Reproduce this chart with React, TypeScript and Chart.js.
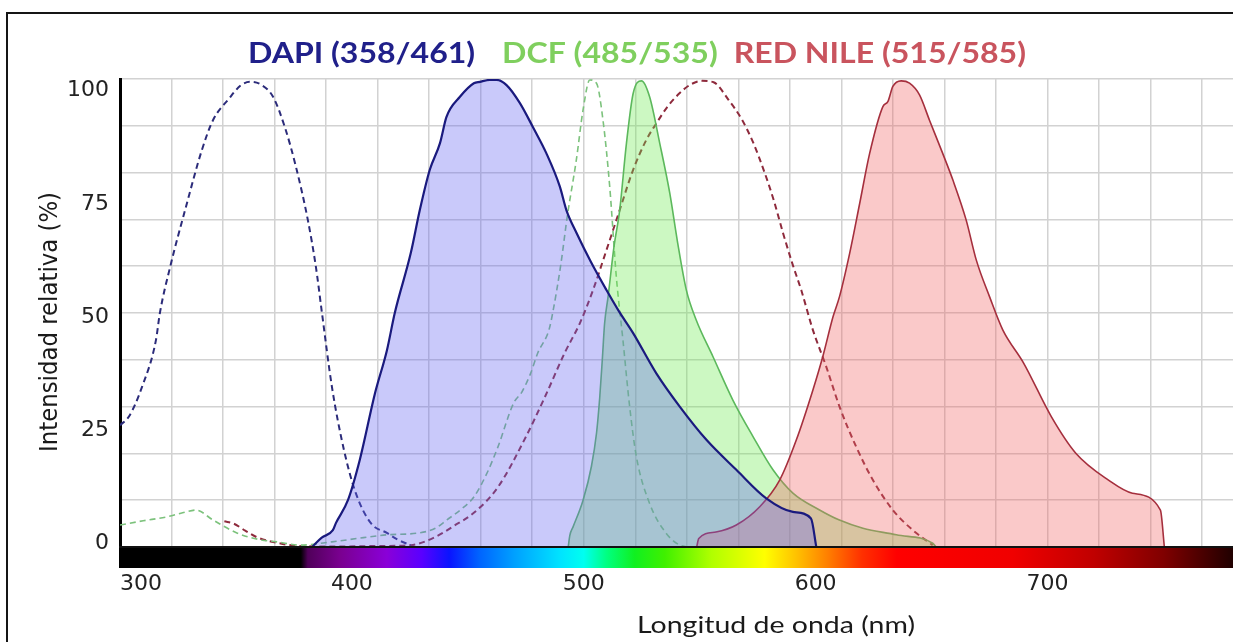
import React, { useEffect, useRef } from "react";
import { Chart, registerables } from "chart.js";

Chart.register(...registerables);

// ---------- DATA (wavelength nm, relative intensity %) ----------
const dapiExcitation: [number, number][] = [
  [300, 26], [304, 28], [309.5, 34.2], [315.5, 44.2], [317.2, 50], [321.6, 59.8], [328.4, 72.6],
  [335.3, 84.8], [340.1, 91.2], [347, 95.8], [352, 98.6], [356, 99.4], [360.8, 98.8], [366, 96.2],
  [371.1, 89.7], [375.9, 81.2], [381, 69.9], [384.5, 59.8], [387.1, 50], [391.4, 34.2], [396.6, 20.7],
  [401.7, 11.5], [408.2, 5.1], [415.1, 3], [420, 1.5], [425.4, 0.4],
];

const dapiEmission: [number, number][] = [
  [382.8, 0], [387, 2], [391.8, 3.6], [393.1, 5.1], [398.3, 10], [403.4, 18.6], [410, 32.9], [415.1, 42],
  [418.5, 50], [425.4, 62.8], [429.3, 72], [433.6, 80.6], [438, 86.3], [440.8, 91.9], [446.6, 96.2],
  [452.6, 99.1], [455.2, 99.4], [459.5, 99.8], [462.4, 99.8], [466.7, 98.7], [472.4, 94.9], [478, 89.8],
  [483.9, 84.1], [489.7, 77], [492.5, 72], [497, 67], [503, 61], [509.8, 54.9], [515, 50.5], [521.3, 45.7],
  [531.3, 37.1], [541.4, 30], [552.9, 22.9], [565.8, 16.5], [578.7, 10.4], [590.2, 7.5], [598, 6.1], [600.3, 0],
];

const dcfExcitation: [number, number][] = [
  [300, 4.7], [310, 5.6], [319.8, 6.4], [327, 7.3], [332.8, 7.9], [340, 5.8], [350.4, 3], [360, 1.6],
  [367.7, 1.1], [377.6, 0.4], [391.4, 1.1], [405, 2], [415, 2.6], [428.9, 3], [436, 4], [441, 5.8], [447, 8],
  [452.6, 10.7], [458, 15.5], [463, 21.4], [469.8, 30.8], [473.3, 33.1], [477, 37], [480.2, 41.5], [485, 46.4],
  [486.6, 50], [490, 60], [493, 71], [496.8, 82.7], [499.7, 93.4], [502.6, 99.8], [505.5, 99.1], [508.3, 91.2],
  [511.2, 77], [514, 58], [516.9, 44.2], [519.8, 30], [522.7, 19.3], [528.4, 9.3], [535.6, 2.9], [541.4, 0.4], [545, 0],
];

const dcfEmission: [number, number][] = [
  [493.3, 0], [494, 2.5], [495.4, 4.3], [499.7, 10], [503.3, 17.2], [505.5, 24.3], [506.9, 32], [508, 40],
  [509, 47.8], [510.5, 53.5], [513, 64], [515.5, 72], [518.4, 86.2], [521.3, 96.9], [524.9, 99.6], [528.4, 96.2],
  [532.8, 86.2], [537.1, 75.6], [540.5, 65], [544.2, 55], [548.5, 48.5], [555.7, 40.7], [564.3, 31.4], [573, 23.6],
  [581.6, 16.5], [590.2, 11.5], [601.7, 7.9], [610, 5.8], [620.4, 4], [634.8, 2.6], [650.5, 0.8], [652, 0],
];

const nileExcitation: [number, number][] = [
  [345, 5.5], [349, 5], [354, 3.5], [359, 2.1], [367.7, 0.9], [375, 0.3], [390, 0.1], [410, 0.2], [425.4, 0.4],
  [435.8, 2.1], [444, 4.5], [452.6, 7.3], [463, 12.8], [475, 23.5], [483.2, 32], [491.8, 41.5], [498.3, 47.8],
  [504, 54.9], [509.5, 63], [515.5, 72], [521.3, 80.6], [527, 87], [531.3, 90.5], [536, 94], [541.4, 97],
  [546, 98.8], [551, 99.6], [556, 99.3], [562.5, 95.5], [568, 91.5], [573, 86.5], [578, 80], [582, 74],
  [586, 67], [590, 60.5], [593.8, 54.9], [598.8, 46.4], [604.6, 38.5], [610.3, 30], [617.5, 21.4],
  [624.7, 14.3], [633.3, 7.9], [641.9, 3.6], [650.5, 0.4],
];

const nileEmission: [number, number][] = [
  [548.7, 0], [549.6, 1.8], [557, 3.2], [565.8, 4.7], [575.9, 8.6], [584.5, 14.3], [591.7, 22.9], [598.8, 33.5],
  [603.1, 40.7], [607.5, 49.2], [610.3, 53.5], [614.7, 62.8], [619, 73.4], [623.3, 84.1], [629, 94.1],
  [631.2, 95.2], [633.3, 98.4], [636.9, 99.6], [640.5, 99.1], [644.8, 96.6], [649.1, 91.2], [654.8, 84.1],
  [659.2, 78.4], [664.9, 69.9], [669.3, 61.3], [675, 53.5], [680.7, 46.4], [689.7, 39.3], [701.7, 27.8],
  [712.1, 20.1], [726.3, 14.3], [736.6, 11.5], [748.7, 7.9], [750.4, 0],
];

const xTickValues = [300, 400, 500, 600, 700];
const yTickValues = [0, 25, 50, 75, 100];
const yGridValues = [0, 10, 20, 30, 40, 50, 60, 70, 80, 90, 100];
const xMin = 300;
const xMax = 780;
const xGridStep = 400 / 18;

const titleParts = ["DAPI (358/461)", "DCF (485/535)", "RED NILE (515/585)"];
const titleColors = ["#20208a", "#7fcf5e", "#c9545e"];
const xTitle = "Longitud de onda (nm)";
const yTitle = "Intensidad relativa (%)";

const spectrumStops: [number, string][] = [
  [300, "#000000"], [378, "#000000"], [381, "#50005a"], [395, "#7a0090"], [415, "#8a00d8"], [430, "#5a00ff"],
  [442, "#0a14ff"], [455, "#0064ff"], [470, "#00a0ff"], [490, "#00e4ff"], [500, "#00fff0"], [510, "#00ff80"],
  [522, "#10f020"], [535, "#40f000"], [555, "#b0ff00"], [578, "#ffff00"], [592, "#ffc000"], [605, "#ff8000"],
  [620, "#ff3000"], [635, "#ff0000"], [685, "#f00000"], [720, "#c00000"], [750, "#800000"], [770, "#400000"],
  [780, "#200000"],
];

const pts = (a: [number, number][]) => a.map(([x, y]) => ({ x, y }));

const spectrumPlugin = {
  id: "spectrumBar",
  afterDraw(chart: any) {
    const { ctx, chartArea, scales } = chart;
    const xs = scales.x;
    const left = chartArea.left;
    const right = chartArea.right;
    const top = chartArea.bottom;
    const g = ctx.createLinearGradient(left, 0, right, 0);
    spectrumStops.forEach(([nm, c]) => {
      const p = (xs.getPixelForValue(nm) - left) / (right - left);
      g.addColorStop(Math.min(1, Math.max(0, p)), c);
    });
    ctx.save();
    ctx.fillStyle = g;
    ctx.fillRect(left - 1, top, right - left + 1, 21);
    ctx.fillStyle = "#111";
    ctx.fillRect(left - 1, top - 1, right - left + 1, 2);
    ctx.restore();
  },
};

const textPlugin = {
  id: "texts",
  afterDraw(chart: any) {
    const ctx = chart.ctx;
    ctx.save();
    // Title (three coloured parts)
    ctx.font = "bold 28px Lato";
    ctx.textBaseline = "alphabetic";
    ctx.textAlign = "left";
    const widths = titleParts.map((t) => ctx.measureText(t).width);
    const gaps = [27, 16];
    const start = 248;
    const span = 778;
    const sx = (span - gaps[0] - gaps[1]) / widths.reduce((a, b) => a + b, 0);
    let x = start;
    titleParts.forEach((t, i) => {
      ctx.save();
      ctx.translate(x, 63);
      ctx.scale(sx, 1);
      ctx.fillStyle = titleColors[i];
      ctx.fillText(t, 0, 0);
      ctx.restore();
      x += widths[i] * sx + (gaps[i] || 0);
    });

    // X axis title
    ctx.font = "24px Lato";
    const xw = ctx.measureText(xTitle).width;
    ctx.save();
    ctx.translate(637, 633);
    ctx.scale(278 / xw, 1);
    ctx.fillStyle = "#1a1a1a";
    ctx.fillText(xTitle, 0, 0);
    ctx.restore();

    // Y axis title
    ctx.font = '25px "DejaVu Sans"';
    const yw = ctx.measureText(yTitle).width;
    ctx.save();
    ctx.translate(57, 452);
    ctx.rotate(-Math.PI / 2);
    ctx.scale(260 / yw, 1);
    ctx.fillStyle = "#1a1a1a";
    ctx.fillText(yTitle, 0, 0);
    ctx.restore();

    ctx.restore();
  },
};

export default function App() {
  const ref = useRef<HTMLCanvasElement>(null);

  useEffect(() => {
    if (!ref.current) return;
    const gridColor = "#d2d2d2";
    const chart = new Chart(ref.current, {
      type: "line",
      data: {
        datasets: [
          {
            label: "DAPI emisión",
            data: pts(dapiEmission),
            borderColor: "#1a1a7e",
            borderWidth: 2.2,
            backgroundColor: "rgba(100,100,240,0.35)",
            fill: "origin",
          },
          {
            label: "Red Nile emisión",
            data: pts(nileEmission),
            borderColor: "#a52f3d",
            borderWidth: 1.6,
            backgroundColor: "rgba(240,100,100,0.35)",
            fill: "origin",
          },
          {
            label: "DCF emisión",
            data: pts(dcfEmission),
            borderColor: "#5cb85c",
            borderWidth: 1.6,
            backgroundColor: "rgba(110,235,80,0.35)",
            fill: "origin",
          },
          {
            label: "DAPI excitación",
            data: pts(dapiExcitation),
            borderColor: "#2b2b7a",
            borderWidth: 2,
            borderDash: [6, 4],
            fill: false,
          },
          {
            label: "DCF excitación",
            data: pts(dcfExcitation),
            borderColor: "#7cc27c",
            borderWidth: 1.6,
            borderDash: [6, 4],
            fill: false,
          },
          {
            label: "Red Nile excitación",
            data: pts(nileExcitation),
            borderColor: "#8e2a3c",
            borderWidth: 2,
            borderDash: [6, 4],
            fill: false,
          },
        ] as any,
      },
      options: {
        responsive: false,
        maintainAspectRatio: false,
        devicePixelRatio: 1,
        animation: false,
        events: [],
        elements: {
          point: { radius: 0 },
          line: { cubicInterpolationMode: "monotone" },
        },
        layout: { padding: { top: 79, left: 0, right: 0, bottom: 0 }, autoPadding: false } as any,
        plugins: {
          legend: { display: false },
          tooltip: { enabled: false },
          title: { display: false },
        },
        scales: {
          xg: {
            type: "linear",
            position: "bottom",
            weight: 0,
            min: xMin,
            max: xMax,
            grid: { display: true, color: gridColor, lineWidth: 1.5, drawTicks: false },
            border: { display: false },
            ticks: { display: false, padding: 0 },
            afterBuildTicks: (s: any) => {
              const t: any[] = [];
              for (let v = xMin + xGridStep; v < xMax; v += xGridStep) t.push({ value: v });
              s.ticks = t;
            },
            afterFit: (s: any) => { s.height = 0; },
          },
          x: {
            type: "linear",
            position: "bottom",
            weight: 1,
            min: xMin,
            max: xMax,
            grid: {
              display: true,
              drawOnChartArea: false,
              drawTicks: true,
              tickLength: 24,
              color: "rgba(0,0,0,0)",
            },
            border: { display: false },
            ticks: {
              autoSkip: false,
              maxRotation: 0,
              align: "inner",
              padding: 0,
              color: "#222",
              font: { family: "DejaVu Sans", size: 22 },
              callback: (v: any) => (xTickValues.includes(Number(v)) ? String(v) : ""),
            },
            afterBuildTicks: (s: any) => {
              s.ticks = [...xTickValues, xMax].map((v) => ({ value: v }));
            },
            afterFit: (s: any) => { s.height = 95; s.paddingRight = 0; s.paddingLeft = 0; },
          },
          y: {
            type: "linear",
            position: "left",
            weight: 0,
            min: 0,
            max: 100,
            grid: { display: true, color: gridColor, lineWidth: 1.5, drawTicks: false },
            border: { display: true, color: "#000", width: 3 },
            ticks: { display: false },
            afterBuildTicks: (s: any) => {
              s.ticks = yGridValues.map((v) => ({ value: v }));
            },
            afterFit: (s: any) => { s.width = 0; },
          },
          yl: {
            type: "linear",
            position: "left",
            weight: 1,
            min: -0.77,
            max: 102.6,
            grid: { display: false, drawTicks: false },
            border: { display: false },
            ticks: {
              autoSkip: false,
              padding: 11,
              color: "#222",
              font: { family: "DejaVu Sans", size: 22 },
            },
            afterBuildTicks: (s: any) => {
              s.ticks = yTickValues.map((v) => ({ value: v }));
            },
            afterFit: (s: any) => { s.width = 120; },
          },
        } as any,
      },
      plugins: [spectrumPlugin, textPlugin],
    });
    return () => chart.destroy();
  }, []);

  return (
    <div
      style={{
        position: "fixed",
        left: 0,
        top: 0,
        width: 1233,
        height: 642,
        overflow: "hidden",
        background: "#fff",
      }}
    >
      <canvas
        ref={ref}
        width={1233}
        height={642}
        style={{ position: "absolute", left: 0, top: 0, width: 1233, height: 642 }}
      />
      <div
        style={{
          position: "absolute",
          left: 6,
          top: 12,
          width: 1400,
          height: 800,
          borderLeft: "2px solid #151515",
          borderTop: "2px solid #151515",
          pointerEvents: "none",
        }}
      />
    </div>
  );
}
